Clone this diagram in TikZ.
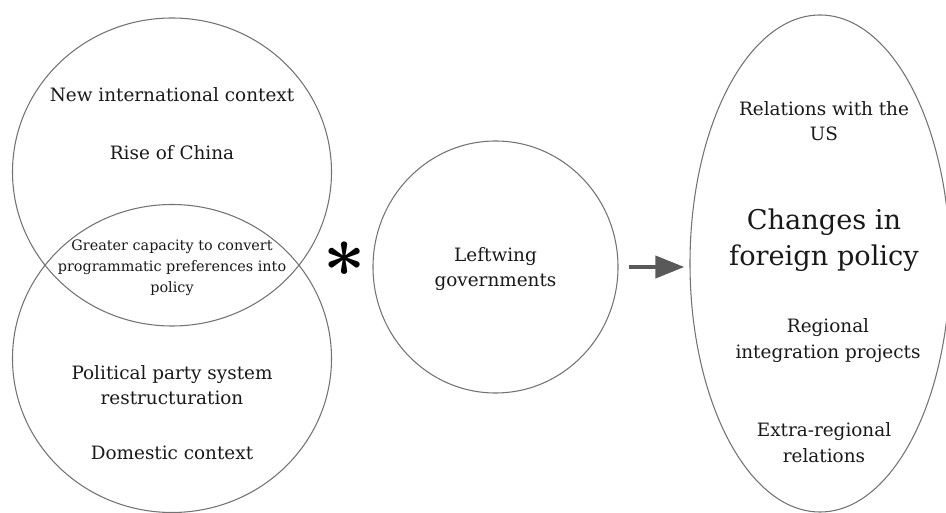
\documentclass[tikz,border=0pt]{standalone}
\usepackage{fontspec}
\setmainfont{DejaVu Serif}
\usetikzlibrary{shapes.geometric}
\usetikzlibrary{positioning}
\usetikzlibrary{arrows.meta}

\begin{document}
\begin{tikzpicture}[x=0.75pt, y=-0.75pt, node distance=1cm]
    \tikzstyle{blob}=[draw=black!55, line width=0.8pt, ellipse, inner sep=0pt]
    \tikzstyle{txt}=[align=center, inner sep=0pt, text=black!90, font=\fontsize{13.8}{19}\selectfont]
    \tikzstyle{smalltxt}=[align=center, inner sep=0pt, text=black!90, font=\fontsize{10.8}{15.75}\selectfont]
    \tikzstyle{flow}=[-{Triangle[length=21.75pt, width=16.3pt]}, draw=black!65, line width=3.4pt]

    \useasboundingbox (0,0) rectangle (946,513);

    % the circles
    \node[blob, minimum width=239.25pt, minimum height=231pt] (intl) at (172,172) {};
    \node[blob, minimum width=239.25pt, minimum height=231pt] (dom) at (172,358.5) {};
    \node[blob, minimum width=183.75pt, minimum height=189pt] (left) at (495.5,267) {};
    \node[blob, minimum width=195pt, minimum height=372.75pt] (policy) at (820,263.5) {};

    % texts inside
    \node[txt] (intltxt) at (172,95) {New international context};
    \node[txt] (china) at (172,153) {Rise of China};
    \node[smalltxt] (capacity) at (172,268) {Greater capacity to convert\\programmatic preferences into\\policy};
    \node[txt] (party) at (172,385) {Political party system\\restructuration};
    \node[txt] (domtxt) at (172,453) {Domestic context};
    \node[inner sep=0pt] (star) at (344.5,259.5) {\scalebox{5.5}{\boldmath$\ast$}};
    \node[txt] (gov) at (495.5,269) {Leftwing\\governments};
    \node[txt] (us) at (824,121) {Relations with the\\US};
    \node[txt, font=\fontsize{20.4}{27}\selectfont] (change) at (824,240) {Changes in\\foreign policy};
    \node[txt] (regional) at (828,340.5) {Regional\\integration projects};
    \node[txt] (extra) at (824,442.5) {Extra-regional\\relations};

    \draw[flow, shorten <=7.5pt, shorten >=3.75pt] (left.east) -- (left.east -| policy.west);

\end{tikzpicture}
\end{document}
